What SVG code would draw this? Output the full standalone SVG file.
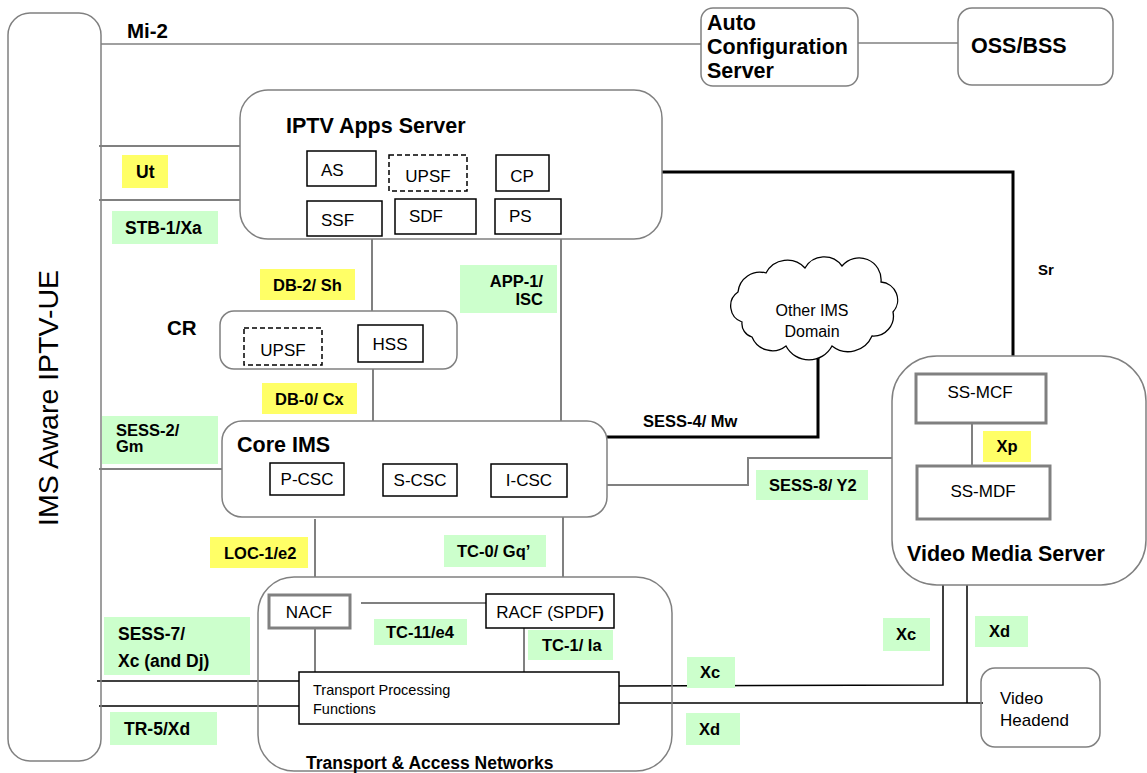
<svg xmlns="http://www.w3.org/2000/svg" width="1147" height="773" viewBox="0 0 1147 773">
<style>
text{font-family:"Liberation Sans",Arial,sans-serif;fill:#000}
.b{font-weight:bold}
.t{font-size:21.5px;font-weight:bold}
.l{font-size:16.5px;font-weight:bold}
.L{font-size:17.5px;font-weight:bold}
.n{font-size:17px}
.c{fill:none;stroke:#808080;stroke-width:1.5}
.bx{fill:#fff;stroke:#000;stroke-width:1.5}
.dbx{fill:#fff;stroke:#000;stroke-width:1.5;stroke-dasharray:5,3}
.gbx{fill:#fff;stroke:#808080;stroke-width:3}
.g{fill:#ccffcc}
.y{fill:#ffff66}
.gl{fill:none;stroke:#808080;stroke-width:2}
.kl{fill:none;stroke:#000;stroke-width:3}
.tl{fill:none;stroke:#000;stroke-width:1.5}
.m{text-anchor:middle}
</style>
<rect width="1147" height="773" fill="#fff"/>
<g id="connectors">
<line class="gl" x1="101" y1="44" x2="701" y2="44" style="stroke-width:1.5"/>
<line class="gl" x1="858" y1="43" x2="958" y2="43" style="stroke-width:1.5"/>
<line class="gl" x1="99" y1="146" x2="240" y2="146"/>
<line class="gl" x1="99" y1="200" x2="240" y2="200"/>
<line class="gl" x1="372" y1="239" x2="372" y2="311"/>
<line class="gl" x1="373" y1="369" x2="373" y2="421"/>
<line class="gl" x1="561" y1="239" x2="561" y2="421"/>
<line class="gl" x1="99" y1="469" x2="222" y2="469"/>
<polyline class="kl" points="662,172 1013,172 1013,356"/>
<polyline class="kl" points="607,437 818,437 818,346"/>
<polyline class="gl" points="607,485 748,485 748,458 892,458"/>
<line class="gl" x1="972" y1="423" x2="972" y2="466"/>
<line class="gl" x1="315" y1="519" x2="315" y2="577"/>
<line class="gl" x1="563" y1="517" x2="563" y2="577"/>
<line class="gl" x1="361" y1="603" x2="486" y2="603"/>
<line class="gl" x1="315" y1="628" x2="315" y2="672"/>
<line class="gl" x1="524" y1="628" x2="524" y2="672"/>
<line class="tl" x1="97" y1="681" x2="299" y2="681"/>
<line class="tl" x1="99" y1="706" x2="299" y2="706"/>
<polyline class="tl" points="619,686 943,685 943,585"/>
<line class="tl" x1="619" y1="703" x2="983" y2="703"/>
<line class="tl" x1="967" y1="585" x2="967" y2="703"/>
</g>
<g id="ue">
<rect class="c" x="8" y="13" width="93" height="748" rx="22"/>
<text transform="translate(58,398) rotate(-90)" class="m" style="font-size:28.5px">IMS Aware IPTV-UE</text>
</g>
<g id="mi2"><text class="b" x="127" y="38" style="font-size:20.5px">Mi-2</text></g>
<g id="acs">
<rect class="c" x="701" y="8" width="157" height="78" rx="12"/>
<text class="t" x="707" y="30">Auto</text>
<text class="t" x="707" y="54">Configuration</text>
<text class="t" x="707" y="78">Server</text>
</g>
<g id="oss">
<rect class="c" x="958" y="8" width="155" height="77" rx="14"/>
<text class="t" x="971" y="53">OSS/BSS</text>
</g>
<g id="iptv">
<rect class="c" x="240" y="90" width="422" height="149" rx="28"/>
<text class="t" x="286" y="133">IPTV Apps Server</text>
<rect class="bx" x="307" y="151" width="69" height="35"/>
<text class="n" x="321" y="176">AS</text>
<rect class="dbx" x="389" y="155" width="78" height="36"/>
<text class="n m" x="428" y="182">UPSF</text>
<rect class="bx" x="496" y="155" width="53" height="36"/>
<text class="n m" x="522" y="182">CP</text>
<rect class="bx" x="307" y="201" width="75" height="35"/>
<text class="n" x="321" y="226">SSF</text>
<rect class="bx" x="395" y="199" width="81" height="35"/>
<text class="n" x="409" y="222">SDF</text>
<rect class="bx" x="495" y="199" width="66" height="35"/>
<text class="n" x="509" y="222">PS</text>
</g>
<g id="lbl-ut"><rect class="y" x="122" y="155" width="46" height="33"/><text class="L" x="136" y="178">Ut</text></g>
<g id="lbl-stb"><rect class="g" x="112" y="211" width="106" height="33"/><text class="L" x="125" y="234">STB-1/Xa</text></g>
<g id="lbl-db2"><rect class="y" x="260" y="269" width="95" height="31"/><text class="l" x="273" y="291">DB-2/ Sh</text></g>
<g id="lbl-app1"><rect class="g" x="460" y="265" width="97" height="48"/><text class="l" x="543" y="287" style="text-anchor:end">APP-1/</text><text class="l" x="543" y="305" style="text-anchor:end">ISC</text></g>
<g id="cr">
<text class="b" x="167" y="335" style="font-size:20.5px">CR</text>
<rect class="c" x="220" y="311" width="237" height="58" rx="14"/>
<rect class="dbx" x="244" y="328" width="78" height="37"/>
<text class="n m" x="283" y="356">UPSF</text>
<rect class="bx" x="358" y="325" width="65" height="37"/>
<text class="n m" x="390" y="350">HSS</text>
</g>
<g id="lbl-db0"><rect class="y" x="262" y="383" width="95" height="31"/><text class="l" x="275" y="405">DB-0/ Cx</text></g>
<g id="lbl-sess2"><rect class="g" x="102" y="416" width="116" height="48"/><text class="l" x="116" y="436">SESS-2/</text><text class="l" x="116" y="452">Gm</text></g>
<g id="core">
<rect class="c" x="222" y="421" width="385" height="96" rx="20"/>
<text class="t" x="237" y="452">Core IMS</text>
<rect class="bx" x="270" y="463" width="74" height="32"/>
<text class="n m" x="307" y="485">P-CSC</text>
<rect class="bx" x="383" y="464" width="74" height="32"/>
<text class="n m" x="420" y="486">S-CSC</text>
<rect class="bx" x="491" y="464" width="76" height="33"/>
<text class="n m" x="529" y="486">I-CSC</text>
</g>
<g id="lbl-sess4"><text class="l" x="643" y="427">SESS-4/ Mw</text></g>
<g id="lbl-sr"><text class="b" x="1038" y="275" style="font-size:15px">Sr</text></g>
<g id="cloud">
<path d="M742,322 A17 17 0 0 1 738,292 A22 22 0 0 1 766,273 A24 24 0 0 1 805,268 A22 22 0 0 1 842,266 A22 22 0 0 1 881,282 A18 18 0 0 1 893,312 A20 20 0 0 1 872,336 A26 26 0 0 1 832,346 A26 26 0 0 1 786,346 A22 22 0 0 1 752,337 A14 14 0 0 1 742,322 Z" fill="#fff" stroke="#000" stroke-width="1.3"/>
<text class="m" x="812" y="316" style="font-size:16px">Other IMS</text>
<text class="m" x="812" y="337" style="font-size:16px">Domain</text>
</g>
<g id="vms">
<rect class="c" x="892" y="356" width="254" height="229" rx="45"/>
<rect class="gbx" x="916" y="374" width="130" height="49"/>
<text class="n m" x="980" y="398">SS-MCF</text>
<rect class="gbx" x="917" y="466" width="133" height="53"/>
<text class="n m" x="983" y="497">SS-MDF</text>
<text class="t" x="907" y="561">Video Media Server</text>
</g>
<g id="lbl-xp"><rect class="y" x="983" y="431" width="48" height="31"/><text class="l m" x="1007" y="452">Xp</text></g>
<g id="lbl-sess8"><rect class="g" x="756" y="470" width="112" height="30"/><text class="l" x="769" y="491">SESS-8/ Y2</text></g>
<g id="lbl-loc1"><rect class="y" x="210" y="537" width="98" height="31"/><text class="l" x="224" y="559">LOC-1/e2</text></g>
<g id="lbl-tc0"><rect class="g" x="444" y="535" width="102" height="32"/><text class="l" x="457" y="557">TC-0/ Gq’</text></g>
<g id="tan">
<rect class="c" x="258" y="577" width="414" height="194" rx="36"/>
<text class="L" x="306" y="769">Transport &amp; Access Networks</text>
<rect class="gbx" x="269" y="595" width="81" height="33"/>
<text class="n m" x="309" y="618">NACF</text>
<rect class="bx" x="486" y="594" width="128" height="34"/>
<text class="n m" x="550" y="618">RACF (SPDF<tspan class="b">)</tspan></text>
<rect class="bx" x="299" y="672" width="320" height="52"/>
<text x="313" y="695" style="font-size:14.5px">Transport Processing</text>
<text x="313" y="714" style="font-size:14.5px">Functions</text>
</g>
<g id="lbl-tc11"><rect class="g" x="374" y="619" width="93" height="26"/><text class="l" x="386" y="638">TC-11/e4</text></g>
<g id="lbl-tc1"><rect class="g" x="528" y="630" width="85" height="30"/><text class="l" x="542" y="651">TC-1/ Ia</text></g>
<g id="lbl-sess7"><rect class="g" x="104" y="617" width="146" height="58"/><text class="L" x="118" y="640">SESS-7/</text><text class="L" x="118" y="667">Xc (and Dj)</text></g>
<g id="lbl-tr5"><rect class="g" x="110" y="712" width="107" height="33"/><text class="L" x="124" y="735">TR-5/Xd</text></g>
<g id="lbl-xc1"><rect class="g" x="687" y="657" width="48" height="31"/><text class="l" x="700" y="678">Xc</text></g>
<g id="lbl-xd1"><rect class="g" x="686" y="713" width="54" height="32"/><text class="l" x="699" y="735">Xd</text></g>
<g id="lbl-xc2"><rect class="g" x="883" y="618" width="47" height="33"/><text class="l" x="896" y="640">Xc</text></g>
<g id="lbl-xd2"><rect class="g" x="975" y="616" width="53" height="31"/><text class="l" x="989" y="637">Xd</text></g>
<g id="headend">
<rect class="c" x="981" y="668" width="119" height="79" rx="14"/>
<text x="1000" y="704" style="font-size:17px">Video</text>
<text x="1000" y="726" style="font-size:17px">Headend</text>
</g>
</svg>
